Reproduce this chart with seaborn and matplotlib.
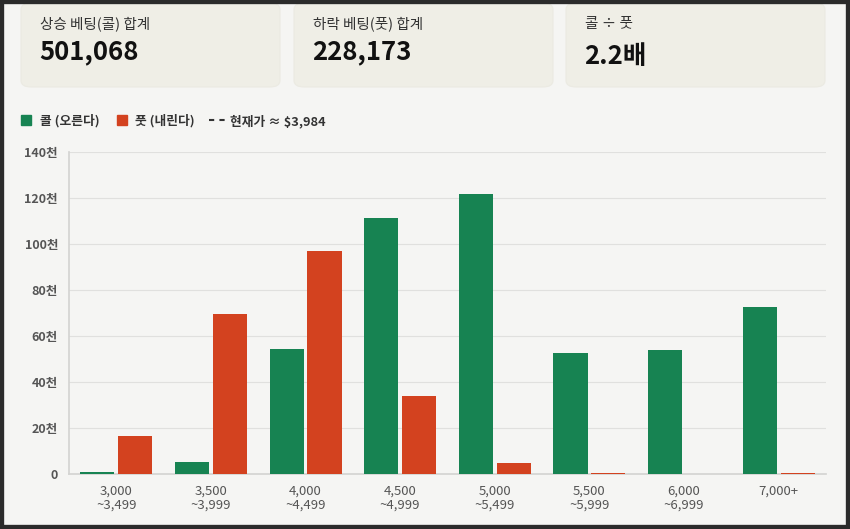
import matplotlib
matplotlib.use('Agg')
import matplotlib.pyplot as plt
from matplotlib.patches import FancyBboxPatch, Rectangle
from matplotlib.lines import Line2D
from matplotlib.ticker import FuncFormatter
import pandas as pd
import seaborn as sns

# bucket labels + bet totals
ranges = ['3,000\n~3,499', '3,500\n~3,999', '4,000\n~4,499', '4,500\n~4,999',
          '5,000\n~5,499', '5,500\n~5,999', '6,000\n~6,999', '7,000+']
call_bets = [800, 5400, 54500, 111500, 121600, 52700, 53900, 72700]
put_bets = [16400, 69400, 97000, 33800, 4600, 600, 200, 400]

card_labels = ['상승 베팅(콜) 합계', '하락 베팅(풋) 합계', '콜 ÷ 풋']
card_values = ['501,068', '228,173', '2.2배']

series_names = ['콜 (오른다)', '풋 (내린다)']
current_price_label = '현재가 ≈ $3,984'

GREEN = '#178352'
RED = '#d3421f'
BG = '#f5f5f3'

sns.set_theme(style='white')
plt.rcParams['font.family'] = ['Noto Sans CJK KR', 'DejaVu Sans']

df = pd.DataFrame({
    'range': ranges * 2,
    'amount': call_bets + put_bets,
    'side': [series_names[0]] * len(ranges) + [series_names[1]] * len(ranges),
})

W, H = 850, 529
fig = plt.figure(figsize=(W / 100, H / 100), dpi=100, facecolor=BG)

# summary cards on top
card_x = [21, 294, 566]
for x0, lab, val in zip(card_x, card_labels, card_values):
    fig.patches.append(FancyBboxPatch((x0 / W, 1 - 87 / H), 259 / W, 84 / H,
                                      boxstyle='round,pad=0,rounding_size=0.012',
                                      transform=fig.transFigure, facecolor='#efeee6',
                                      edgecolor='#ebeae2', linewidth=0.8, zorder=0))
    fig.text((x0 + 19) / W, 1 - 24 / H, lab, fontsize=10.5, color='#333333',
             va='center', ha='left')
    yv = 56 if val.endswith('배') else 52
    fig.text((x0 + 18) / W, 1 - yv / H, val, fontsize=18.5, color='#111111',
             fontweight='bold', va='center', ha='left')

ax = fig.add_axes([69 / W, 1 - 474 / H, 757 / W, 322 / H])
ax.set_facecolor(BG)

sns.barplot(data=df, x='range', y='amount', hue='side', palette=[GREEN, RED],
            width=0.8, gap=0.1, saturation=1, ax=ax, legend=False, zorder=3,
            linewidth=0)

ax.set_xlim(-0.5, len(ranges) - 0.5)
ax.set_ylim(0, 140000)
ax.set_yticks(range(0, 140001, 20000))
ax.yaxis.set_major_formatter(FuncFormatter(lambda v, p: '0' if v == 0 else f'{int(v // 1000)}천'))
ax.grid(axis='y', color='#e0e0de', linewidth=0.8, zorder=0)
ax.set_xlabel('')
ax.set_ylabel('')

for side in ['top', 'right']:
    ax.spines[side].set_visible(False)
ax.spines['left'].set_color('#d4d4d2')
ax.spines['bottom'].set_color('#d4d4d2')
ax.tick_params(axis='y', length=5, color='#d4d4d2', labelsize=9, labelcolor='#555555', pad=3)
ax.tick_params(axis='x', length=0, labelsize=9.5, labelcolor='#555555', pad=8)
for t in ax.get_yticklabels():
    t.set_fontweight('bold')
for t in ax.get_xticklabels():
    t.set_linespacing(1.1)

# legend: squares for the two sides, dashed line for current price
handles = [Line2D([0], [0], marker='s', color='none', markerfacecolor=GREEN,
                  markeredgecolor=GREEN, markersize=7.5),
           Line2D([0], [0], marker='s', color='none', markerfacecolor=RED,
                  markeredgecolor=RED, markersize=7.5),
           Line2D([0], [0], color='#333333', linestyle='-', dashes=(2.5, 2.5), linewidth=1.5)]
leg = fig.legend(handles, series_names + [current_price_label], loc='center left',
                 bbox_to_anchor=(7 / W, 1 - 121 / H), ncol=3, frameon=False,
                 fontsize=9.2, handlelength=1.25, handletextpad=0.4,
                 columnspacing=1.15, labelcolor='#333333')
for t in leg.get_texts():
    t.set_fontweight('bold')

# dark frame around screenshot
fig.patches.append(Rectangle((0, 0), 1, 1, transform=fig.transFigure, fill=False,
                             edgecolor='#2b2b2b', linewidth=6, zorder=10))

fig.savefig('out.png', dpi=100, facecolor=BG)
